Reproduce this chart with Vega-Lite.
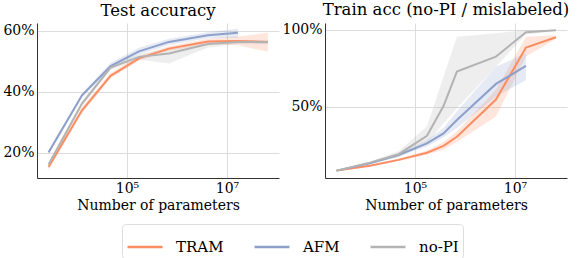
{
  "$schema": "https://vega.github.io/schema/vega-lite/v6.json",
  "padding": {"left": 2, "top": 2, "right": 0, "bottom": 0},
  "spacing": 2,
  "datasets": {
    "test": [
      {"model": "TRAM", "x": 2700, "y": 15.4, "lo": 14.5, "hi": 16.3},
      {"model": "TRAM", "x": 12600, "y": 34, "lo": 33, "hi": 35},
      {"model": "TRAM", "x": 47000, "y": 45.3, "lo": 44.5, "hi": 46.2},
      {"model": "TRAM", "x": 174000, "y": 51, "lo": 50.2, "hi": 51.8},
      {"model": "TRAM", "x": 690000, "y": 54.2, "lo": 53.4, "hi": 55},
      {"model": "TRAM", "x": 4170000, "y": 56.5, "lo": 55.6, "hi": 57.4},
      {"model": "TRAM", "x": 16600000, "y": 56.7, "lo": 55.3, "hi": 58.2},
      {"model": "TRAM", "x": 66000000, "y": 56.4, "lo": 53.2, "hi": 59.4},
      {"model": "AFM", "x": 2700, "y": 20.2, "lo": 19.7, "hi": 20.7},
      {"model": "AFM", "x": 12600, "y": 38.9, "lo": 38.2, "hi": 39.6},
      {"model": "AFM", "x": 47000, "y": 48.5, "lo": 47.6, "hi": 49.6},
      {"model": "AFM", "x": 174000, "y": 53.3, "lo": 52.3, "hi": 54.5},
      {"model": "AFM", "x": 690000, "y": 56.4, "lo": 55.4, "hi": 57.4},
      {"model": "AFM", "x": 4170000, "y": 58.6, "lo": 57.6, "hi": 59.6},
      {"model": "AFM", "x": 16600000, "y": 59.4, "lo": 57.8, "hi": 60.8},
      {"model": "no-PI", "x": 2700, "y": 16.2, "lo": 15.4, "hi": 17},
      {"model": "no-PI", "x": 12600, "y": 36.2, "lo": 35.4, "hi": 37},
      {"model": "no-PI", "x": 47000, "y": 48, "lo": 47.2, "hi": 48.8},
      {"model": "no-PI", "x": 174000, "y": 51.5, "lo": 50.6, "hi": 52.3},
      {"model": "no-PI", "x": 690000, "y": 52.6, "lo": 49.3, "hi": 54.3},
      {"model": "no-PI", "x": 4170000, "y": 55.7, "lo": 54.6, "hi": 56.6},
      {"model": "no-PI", "x": 16600000, "y": 56.4, "lo": 55.7, "hi": 57},
      {"model": "no-PI", "x": 66000000, "y": 56.3, "lo": 55.6, "hi": 57}
    ],
    "train": [
      {"model": "TRAM", "x": 2700, "y": 8.3, "lo": 8, "hi": 8.6},
      {"model": "TRAM", "x": 12600, "y": 11.5, "lo": 11, "hi": 12},
      {"model": "TRAM", "x": 47000, "y": 15.3, "lo": 14.6, "hi": 16},
      {"model": "TRAM", "x": 174000, "y": 20, "lo": 18.6, "hi": 21.5},
      {"model": "TRAM", "x": 372000, "y": 24.4, "lo": 22, "hi": 27},
      {"model": "TRAM", "x": 690000, "y": 30.4, "lo": 27, "hi": 34},
      {"model": "TRAM", "x": 4170000, "y": 54.6, "lo": 43.5, "hi": 61},
      {"model": "TRAM", "x": 16600000, "y": 88.5, "lo": 82.6, "hi": 95.6},
      {"model": "TRAM", "x": 66000000, "y": 95.2, "lo": 94, "hi": 96.5},
      {"model": "AFM", "x": 2700, "y": 8.3, "lo": 8, "hi": 8.6},
      {"model": "AFM", "x": 12600, "y": 13.1, "lo": 12.5, "hi": 13.7},
      {"model": "AFM", "x": 47000, "y": 18.5, "lo": 17.5, "hi": 19.5},
      {"model": "AFM", "x": 174000, "y": 26.1, "lo": 24, "hi": 28.2},
      {"model": "AFM", "x": 372000, "y": 32.6, "lo": 30, "hi": 36},
      {"model": "AFM", "x": 690000, "y": 41.3, "lo": 36, "hi": 47},
      {"model": "AFM", "x": 4170000, "y": 64.8, "lo": 56.5, "hi": 76},
      {"model": "AFM", "x": 16600000, "y": 76.5, "lo": 67.4, "hi": 84.8},
      {"model": "no-PI", "x": 2700, "y": 8.3, "lo": 8, "hi": 8.6},
      {"model": "no-PI", "x": 12600, "y": 13.5, "lo": 12.8, "hi": 14.2},
      {"model": "no-PI", "x": 47000, "y": 19, "lo": 17, "hi": 21},
      {"model": "no-PI", "x": 174000, "y": 31, "lo": 26, "hi": 37},
      {"model": "no-PI", "x": 372000, "y": 50.4, "lo": 39.2, "hi": 69.4},
      {"model": "no-PI", "x": 690000, "y": 72.8, "lo": 48.9, "hi": 95.6},
      {"model": "no-PI", "x": 4170000, "y": 82.6, "lo": 76, "hi": 97.8},
      {"model": "no-PI", "x": 16600000, "y": 98.5, "lo": 97, "hi": 100},
      {"model": "no-PI", "x": 66000000, "y": 99.8, "lo": 99.4, "hi": 100}
    ]
  },
  "config": {
    "view": {"stroke": null},
    "axis": {
      "labelFont": "DejaVu Serif", "labelFontSize": 14, "labelColor": "#000",
      "titleFont": "DejaVu Serif", "titleFontSize": 14, "titleFontWeight": "normal", "titleColor": "#000",
      "domainColor": "#333", "domainWidth": 1, "ticks": false, "gridColor": "#dcdcdc", "gridWidth": 1, "labelPadding": 3
    },
    "title": {"font": "DejaVu Serif", "fontSize": 16.5, "fontWeight": "normal", "color": "#000", "offset": 4},
    "legend": {
      "labelFont": "DejaVu Serif", "labelFontSize": 15, "labelColor": "#000"
    }
  },
  "resolve": {"scale": {"x": "independent", "y": "independent", "color": "shared"}, "legend": {"color": "shared"}},
  "hconcat": [
    {
      "title": "Test accuracy",
      "width": 242, "height": 155,
      "data": {"name": "test"},
      "encoding": {
        "x": {"field": "x", "type": "quantitative", "scale": {"type": "log", "domain": [1585, 110000000], "nice": false},
              "axis": {"values": [100000, 10000000], "labelExpr": "datum.value < 1000000 ? '10⁵' : '10⁷'", "title": "Number of parameters", "titlePadding": 3}},
        "color": {"field": "model", "type": "nominal",
                  "scale": {"domain": ["TRAM", "AFM", "no-PI"], "range": ["#fc8d62", "#8da0cb", "#b3b3b3"]},
                  "legend": {"orient": "none", "legendX": 85, "legendY": 201, "direction": "horizontal", "title": null,
                             "symbolType": "stroke", "symbolSize": 1225, "symbolStrokeWidth": 2.5, "symbolOpacity": 1, "labelOffset": 12, "columnPadding": 25,
                             "strokeColor": "#dddddd", "cornerRadius": 4, "padding": 4, "fillColor": "#ffffff",
                             "encode": {"symbols": {"update": {"opacity": {"value": 1}, "strokeOpacity": {"value": 1}}}}}}
      },
      "layer": [
        {"mark": {"type": "area", "opacity": 0.22}, "encoding": {"y": {"field": "lo", "type": "quantitative", "scale": {"domain": [11.8, 62.6], "nice": false, "zero": false}, "axis": {"values": [20, 40, 60], "labelExpr": "datum.value + '%'", "title": null}}, "y2": {"field": "hi"}}},
        {"mark": {"type": "line", "strokeWidth": 2}, "encoding": {"y": {"field": "y", "type": "quantitative"}}}
      ]
    },
    {
      "title": "Train acc (no-PI / mislabeled)",
      "width": 242, "height": 155,
      "data": {"name": "train"},
      "encoding": {
        "x": {"field": "x", "type": "quantitative", "scale": {"type": "log", "domain": [1585, 110000000], "nice": false},
              "axis": {"values": [100000, 10000000], "labelExpr": "datum.value < 1000000 ? '10⁵' : '10⁷'", "title": "Number of parameters", "titlePadding": 3}},
        "color": {"field": "model", "type": "nominal"}
      },
      "layer": [
        {"mark": {"type": "area", "opacity": 0.22}, "encoding": {"y": {"field": "lo", "type": "quantitative", "scale": {"domain": [3.5, 104.5], "nice": false, "zero": false}, "axis": {"values": [50, 100], "labelExpr": "datum.value + '%'", "title": null}}, "y2": {"field": "hi"}}},
        {"mark": {"type": "line", "strokeWidth": 2}, "encoding": {"y": {"field": "y", "type": "quantitative"}}}
      ]
    }
  ]
}
